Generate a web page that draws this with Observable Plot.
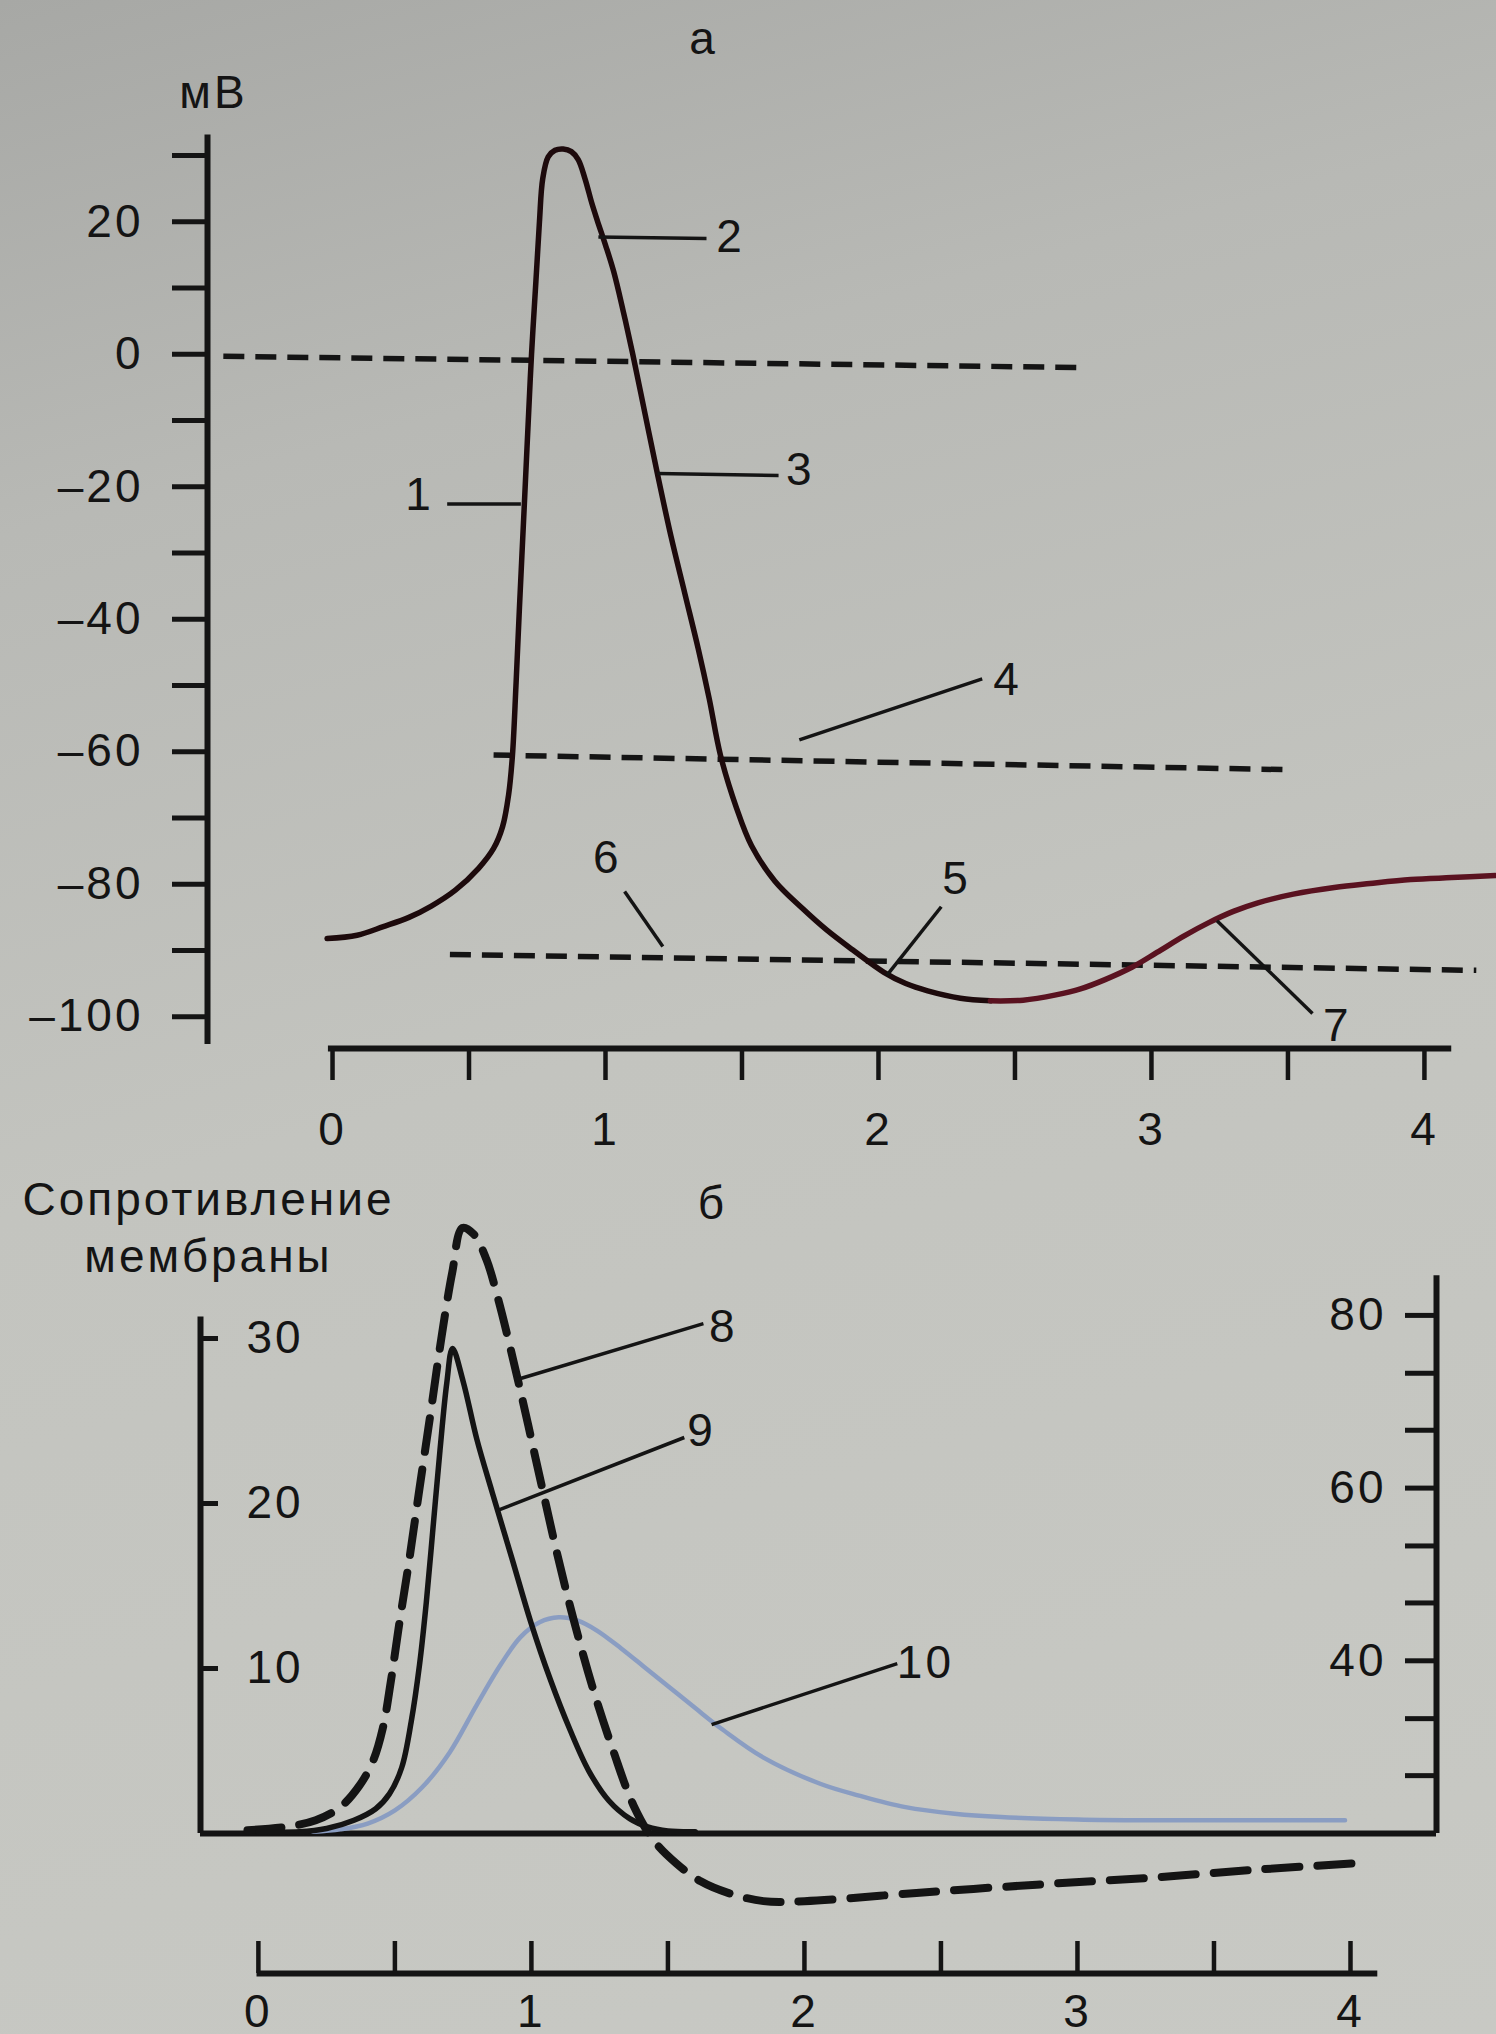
<!DOCTYPE html>
<html><head><meta charset="utf-8">
<script src="https://cdn.jsdelivr.net/npm/d3@7"></script>
<script src="https://cdn.jsdelivr.net/npm/@observablehq/plot@0.6"></script>
<style>
html,body{margin:0;padding:0;width:1496px;height:2034px;overflow:hidden;}
body{background:linear-gradient(165deg,#a7a8a5 0%,#b8b9b5 22%,#c3c4bf 50%,#c8c9c4 100%);}
#a,#b{width:1496px;display:block;}
</style></head><body><div id="a"></div><div id="b"></div>
<script>
// ---------- Panel а : action potential (ms, mV) ----------
const apTime = [-0.02,0.09,0.186,0.28,0.362,0.45,0.535,0.59,0.623,0.645,0.659,0.672,0.685,0.703,0.716,0.729,0.745,0.758,0.770,0.790,0.815,0.845,0.875,0.90,0.925,0.95,0.97,1.0,1.03,1.065,1.10,1.145,1.19,1.24,1.29,1.34,1.38,1.421,1.48,1.535,1.62,1.72,1.81,1.905,2.02,2.1,2.18,2.3,2.41,2.53,2.65,2.74,2.83,2.93,3.02,3.12,3.21,3.3,3.39,3.52,3.67,3.8,3.95,4.1,4.26];
const apVolt = [-88.2,-87.7,-86.4,-85.0,-83.3,-80.9,-77.6,-74.6,-71.3,-66.5,-60.6,-50,-38,-22.4,-11,0,11,20,26.5,29.8,30.8,31.0,30.6,29.4,26.5,22.8,20.2,16.5,12.5,6.5,0,-9,-18,-27.5,-36,-44.5,-52,-60.5,-68.5,-74.2,-79.5,-83.6,-86.9,-89.9,-93.3,-95,-96.1,-97.2,-97.6,-97.5,-96.7,-95.8,-94.4,-92.5,-90.3,-87.8,-85.8,-84.1,-82.8,-81.5,-80.5,-79.9,-79.3,-79.0,-78.7];
const apColourSwitch = 2.41;

// dashed reference levels: 0 mV, threshold (4), resting level (6)
const refStartT = [-0.40, 0.59, 0.43];
const refStartV = [-0.3, -60.5, -90.6];
const refEndT   = [2.75, 3.49, 4.19];
const refEndV   = [-2.0, -62.7, -93.0];

const labelsA  = ["1","2","3","4","5","6","7"];
const labelAT  = [0.319,1.458,1.714,2.473,2.286,1.007,3.681];
const labelAV  = [-21.3,17.7,-17.5,-49.2,-79.3,-76.1,-101.4];
const leaderA_t1 = [0.42,0.974,1.19,1.71,2.03,1.07,3.24];
const leaderA_v1 = [-22.6,17.7,-18.0,-58.2,-93.8,-81.1,-85.5];
const leaderA_t2 = [0.69,1.37,1.634,2.38,2.23,1.21,3.59];
const leaderA_v2 = [-22.6,17.5,-18.3,-49.0,-83.4,-89.4,-99.5];

const yTicksA  = [-100,-90,-80,-70,-60,-50,-40,-30,-20,-10,0,10,20,30];
const yLabelsA = [-100,-80,-60,-40,-20,0,20];
const xTicksA  = [0,0.5,1,1.5,2,2.5,3,3.5,4];
const xLabelsA = [0,1,2,3,4];

// ---------- Panel б : membrane conductance ----------
const potT = [-0.04,0.1,0.21,0.3,0.37,0.42,0.456,0.485,0.515,0.55,0.59,0.63,0.67,0.71,0.747,0.79,0.835,0.878,0.956,1.036,1.095,1.154,1.227,1.30,1.374,1.447,1.53,1.62,1.72,1.85,2.0,2.41,2.85,3.25,3.65,4.02];
const potV = [0.2,0.4,0.8,1.6,2.9,4.4,6.4,9.2,12.6,16.3,20.9,25.4,30.0,34.0,36.7,36.3,34.8,32.4,27.1,21.2,16.9,13.0,8.7,5.0,1.7,-0.4,-1.8,-2.9,-3.6,-4.1,-4.1,-3.6,-3.1,-2.7,-2.2,-1.8];

const naT = [0,0.15,0.25,0.35,0.43,0.48,0.525,0.56,0.59,0.615,0.64,0.665,0.69,0.711,0.75,0.80,0.856,0.93,0.998,1.07,1.141,1.21,1.283,1.36,1.426,1.5,1.6];
const naV = [0.1,0.1,0.3,0.8,1.5,2.4,4.0,6.8,10.2,14.0,18.6,23.2,27.3,29.4,27.4,23.9,20.7,16.6,12.8,9.3,6.3,3.8,2.0,0.9,0.4,0.15,0.1];

const kT = [0.2,0.3,0.4,0.5,0.6,0.7,0.8,0.89,0.96,1.03,1.10,1.17,1.24,1.33,1.42,1.51,1.6,1.7,1.85,2.06,2.2,2.37,2.55,2.72,3.0,3.25,3.6,3.98];
const kV = [0.1,0.25,0.6,1.4,2.8,4.9,7.8,10.3,11.9,12.8,13.1,12.9,12.3,11.2,10.0,8.8,7.6,6.3,4.6,3.0,2.3,1.6,1.2,1.0,0.85,0.8,0.8,0.8];

const labelsB = ["8","9","10"];
const labelBT = [1.703,1.623,2.443];
const labelBV = [30.7,24.4,10.3];
const leaderB_t1 = [0.945,0.879,1.66];
const leaderB_v1 = [27.5,19.6,6.6];
const leaderB_t2 = [1.63,1.56,2.34];
const leaderB_v2 = [30.9,24.0,10.3];

const leftTicksB   = [10,20,30];
const rightTicksB  = [26.7,33.3,40,46.7,53.3,60,66.7,73.3,80];
const rightLabelsB = [40,60,80];
const xTicksB  = [0,0.5,1,1.5,2,2.5,3,3.5,4];
const xLabelsB = [0,1,2,3,4];

// ---------- drawing ----------
const INK = "#141414";
const FONT = "'Liberation Sans', Arial, sans-serif";
const FS = 46;
const style = {background:"transparent", color:INK, fontFamily:FONT, fontSize:FS+"px", letterSpacing:"3px", overflow:"visible"};
const idx = a => a.map((_, i) => i);
const dash = v => v < 0 ? "\u2013" + Math.abs(v) : String(v);
const title = (s, dx, dy) => Plot.text([s], {frameAnchor:"top-left", dx, dy, fontSize:FS, fill:INK, textAnchor:"middle", lineAnchor:"middle"});

const aX = [-0.458, 4.264];
const aY = [-104.8, 35];
const apIdx = idx(apTime);

const plotA = Plot.plot({
  width:1496, height:1160, marginLeft:207, marginRight:0, marginTop:122, marginBottom:112,
  x:{domain:aX}, y:{domain:aY}, style,
  marks:[
    Plot.axisY(yTicksA, {anchor:"left", tickSize:35, tickPadding:29, strokeWidth:5, fontSize:FS, label:null,
      tickFormat:d => yLabelsA.includes(d) ? dash(d) : ""}),
    Plot.axisX(xTicksA, {anchor:"bottom", tickSize:32, tickPadding:32, strokeWidth:4.5, fontSize:FS, label:null,
      tickFormat:d => xLabelsA.includes(d) ? String(d) : ""}),
    Plot.ruleX([aX[0]], {y1:-104.2, y2:33.1, strokeWidth:6, stroke:INK}),
    Plot.ruleY([aY[0]], {x1:-0.015, x2:4.1, strokeWidth:6, stroke:INK}),
    Plot.link(idx(refStartT), {x1:i=>refStartT[i], y1:i=>refStartV[i], x2:i=>refEndT[i], y2:i=>refEndV[i],
      stroke:INK, strokeWidth:5.5, strokeDasharray:"21,11"}),
    Plot.line(apIdx.filter(i => apTime[i] <= apColourSwitch), {x:i=>apTime[i], y:i=>apVolt[i], curve:"catmull-rom", stroke:"#1d0a0c", strokeWidth:5.5}),
    Plot.line(apIdx.filter(i => apTime[i] >= apColourSwitch), {x:i=>apTime[i], y:i=>apVolt[i], curve:"catmull-rom", stroke:"#5a1220", strokeWidth:5.5}),
    Plot.link(idx(leaderA_t1), {x1:i=>leaderA_t1[i], y1:i=>leaderA_v1[i], x2:i=>leaderA_t2[i], y2:i=>leaderA_v2[i], stroke:INK, strokeWidth:3.5}),
    Plot.text(labelsA, {x:(d,i)=>labelAT[i], y:(d,i)=>labelAV[i], text:d=>d, fontSize:FS, fill:INK}),
    title("мВ", 6, -29),
    title("а", 496, -83)
  ]
});
document.getElementById("a").appendChild(plotA);

const bX = [-0.212, 4.315];
const bY = [-8.485, 34];
const rightToLeft = d3.scaleLinear().domain([20, 80]).range([0, 31.4]);

const plotB = Plot.plot({
  width:1496, height:874, marginLeft:200, marginRight:60, marginTop:112, marginBottom:61,
  x:{domain:bX}, y:{domain:bY}, style,
  marks:[
    Plot.ruleX([bX[0]], {y1:0, y2:31.3, strokeWidth:6, stroke:INK}),
    Plot.ruleX([bX[1]], {y1:0, y2:33.8, strokeWidth:6, stroke:INK}),
    Plot.ruleY([0], {x1:bX[0], x2:bX[1], strokeWidth:6, stroke:INK}),
    Plot.ruleY([bY[0]], {x1:-0.005, x2:4.1, strokeWidth:6, stroke:INK}),
    Plot.axisY(leftTicksB, {anchor:"left", tickSize:18, dx:18, strokeWidth:5, label:null, tickFormat:() => ""}),
    Plot.axisY(leftTicksB, {anchor:"left", tickSize:0, tickPadding:0, dx:46, textAnchor:"start", fontSize:FS, label:null}),
    Plot.axisY(rightTicksB.map(rightToLeft), {anchor:"right", tickSize:32, dx:-32, strokeWidth:5, label:null, tickFormat:() => ""}),
    Plot.axisY(rightLabelsB.map(rightToLeft), {anchor:"right", tickSize:0, tickPadding:0, dx:-50, textAnchor:"end", fontSize:FS, label:null,
      tickFormat:d => String(Math.round(rightToLeft.invert(d)))}),
    Plot.axisX(xTicksB, {anchor:"bottom", tickSize:32, dy:-32, strokeWidth:4.5, label:null, tickFormat:() => ""}),
    Plot.axisX(xLabelsB, {anchor:"bottom", tickSize:0, tickPadding:21, fontSize:FS, label:null, tickFormat:d => String(d)}),
    Plot.line(idx(kT), {x:i=>kT[i], y:i=>kV[i], curve:"catmull-rom", stroke:"#8a9dc2", strokeWidth:4.5}),
    Plot.line(idx(potT), {x:i=>potT[i], y:i=>potV[i], curve:"catmull-rom", stroke:INK, strokeWidth:8, strokeDasharray:"34,18"}),
    Plot.line(idx(naT), {x:i=>naT[i], y:i=>naV[i], curve:"catmull-rom", stroke:INK, strokeWidth:5.5}),
    Plot.link(idx(leaderB_t1), {x1:i=>leaderB_t1[i], y1:i=>leaderB_v1[i], x2:i=>leaderB_t2[i], y2:i=>leaderB_v2[i], stroke:INK, strokeWidth:3.5}),
    Plot.text(labelsB, {x:(d,i)=>labelBT[i], y:(d,i)=>labelBV[i], text:d=>d, fontSize:FS, fill:INK}),
    title("Сопротивление", 8, -72),
    title("мембраны", 8, -15),
    title("б", 512, -68)
  ]
});
document.getElementById("b").appendChild(plotB);
</script></body></html>
